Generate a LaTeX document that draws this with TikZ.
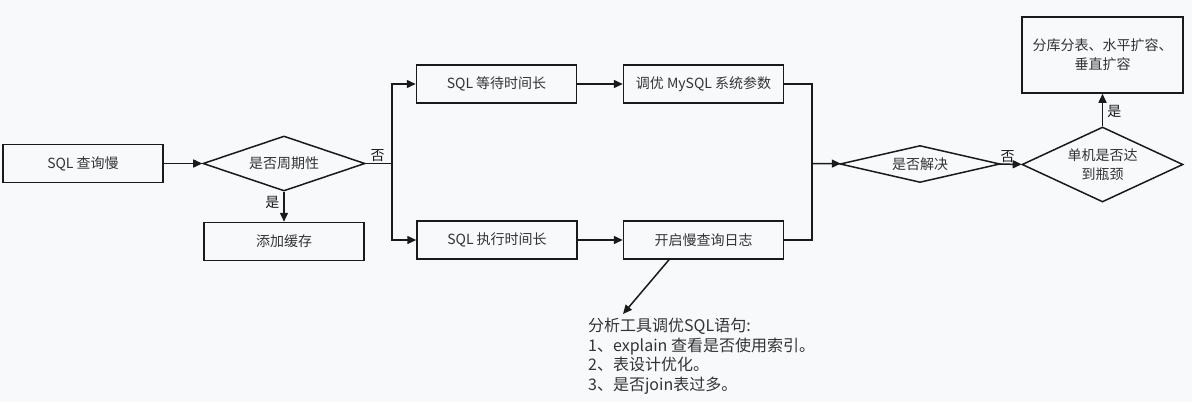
\documentclass[tikz,border=0pt]{standalone}
\usepackage{fontspec}
\setmainfont{Noto Sans CJK SC}
\usetikzlibrary{positioning,arrows.meta,shapes.geometric}
\definecolor{bgc}{HTML}{F8F9FB}
\definecolor{linec}{HTML}{1A1A1A}
\definecolor{txtc}{HTML}{333333}

\begin{document}
\begin{tikzpicture}[
	x=1pt, y=-1pt,
	font=\fontsize{14}{19}\selectfont,
	>={Triangle[length=9pt,width=8pt]},
	box/.style={draw=linec, line width=1.5pt, minimum width=160pt,
		minimum height=38pt, inner sep=2pt, text=txtc, align=center},
	ask/.style={diamond, draw=linec, line width=1.5pt, inner sep=0pt,
		text=txtc, align=center},
	flow/.style={->, line width=1.5pt, draw=linec},
	link/.style={line width=1.5pt, draw=linec},
	lbl/.style={text=linec, inner sep=1pt},
	note/.style={text=txtc, align=left, inner sep=0pt,
		font=\fontsize{16}{19.5}\selectfont},
]

\useasboundingbox[fill=bgc] (0,0) rectangle (1192,402);

% ---- entry and periodic check ----
\node[box] (slow) at (83,163.5) {SQL 查询慢};
\node[ask, aspect=3, minimum width=162pt, minimum height=55pt] (periodic) at (284,163.5) {是否周期性};
\node[box] (cache) at (284,241.5) {添加缓存};

\draw[flow] (slow) -- (periodic);
\draw[flow] (periodic) -- node[lbl, left=3pt, pos=0.35] {是} (cache);

% ---- two branches ----
\coordinate (split) at (392,163.5);
\node[box] (wait) at (496.5,84) {SQL 等待时间长};
\node[box] (tune) at (703.5,84) {调优 MySQL 系统参数};
\node[box] (exec) at (497,240) {SQL 执行时间长};
\node[box] (slowlog) at (703.5,240) {开启慢查询日志};

\draw[link] (periodic.east) -- node[lbl, above, pos=0.45] {否} (split);
\draw[flow] (split) |- (wait);
\draw[flow] (split) |- (exec);
\draw[flow] (wait) -- (tune);
\draw[flow] (exec) -- (slowlog);

% ---- merge and decisions ----
\coordinate (merge) at (812,163.5);
\node[ask, aspect=4.3, minimum width=160pt, minimum height=37pt] (solved) at (920,164) {是否解决};
\node[ask, aspect=2.15, minimum width=161pt, minimum height=75pt] (bottle) at (1102.5,164.5) {单机是否达\\到瓶颈};
\node[box, minimum width=161pt, minimum height=76pt] (shard) at (1102.5,55) {分库分表、水平扩容、\\垂直扩容};

\draw[link] (tune.east) -| (merge);
\draw[link] (slowlog.east) -| (merge);
\draw[flow] (merge) -- (solved);
\draw[flow] (solved) -- node[lbl, above, pos=0.35] {否} (bottle);
\draw[flow] (bottle) -- node[lbl, right=3pt, pos=0.45] {是} (shard);

% ---- slow log analysis note ----
\node[note, anchor=north west] (tips) at (588,318)
	{分析工具调优SQL语句:\\
	 1、explain 查看是否使用索引。\\
	 2、表设计优化。\\
	 3、是否join表过多。};
\coordinate (tipsend) at (623,314);
\draw[flow] ([xshift=-34.5pt]slowlog.south) -- (tipsend);

\end{tikzpicture}
\end{document}
